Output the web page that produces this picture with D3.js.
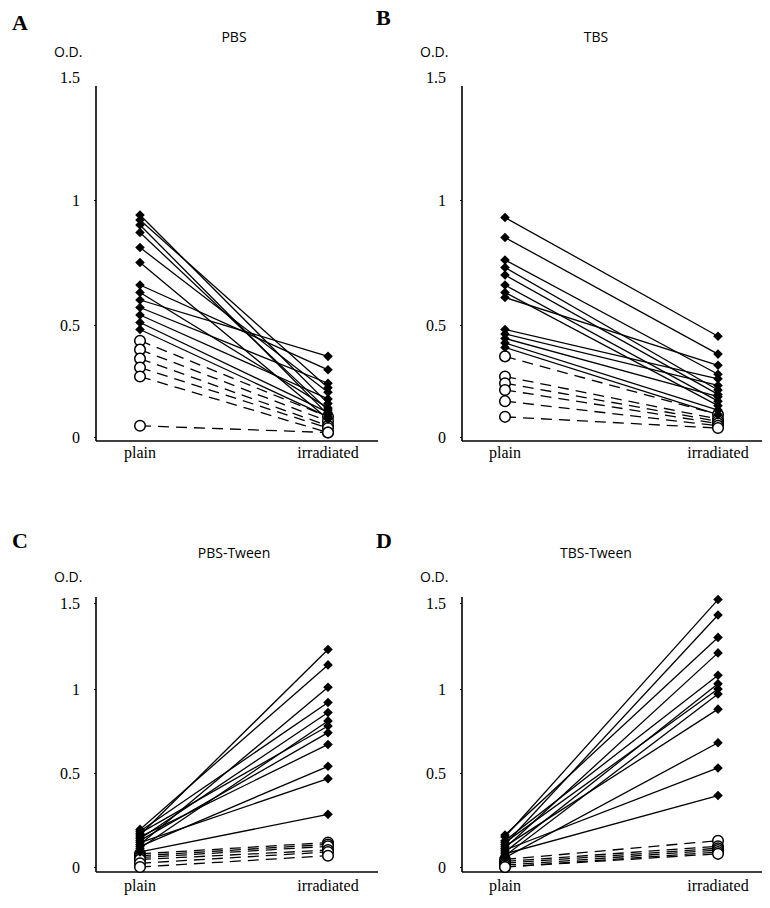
<!DOCTYPE html>
<html>
<head>
<meta charset="utf-8">
<script src="https://cdn.jsdelivr.net/npm/d3@7"></script>
<style>
  html, body { margin: 0; padding: 0; background: #fff; }
  svg { display: block; }
</style>
</head>
<body>
<svg id="fig" width="770" height="908"></svg>
<script>
// ---- data ----
const categories = ["plain", "irradiated"];
const yTicks = [0, 0.5, 1, 1.5];
const yTickLabels = ["0", "0.5", "1", "1.5"];
const panelLetters = ["A", "B", "C", "D"];
const panelTitles = ["PBS", "TBS", "PBS-Tween", "TBS-Tween"];

// PBS
const pbsSolidPlain = [0.94, 0.92, 0.90, 0.87, 0.81, 0.75, 0.66, 0.63, 0.60, 0.57, 0.54, 0.51, 0.48];
const pbsSolidIrr   = [0.15, 0.22, 0.10, 0.12, 0.20, 0.08, 0.30, 0.13, 0.36, 0.24, 0.17, 0.11, 0.09];
const pbsDashPlain  = [0.43, 0.39, 0.35, 0.31, 0.27, 0.05];
const pbsDashIrr    = [0.09, 0.07, 0.05, 0.04, 0.02, 0.02];

// TBS
const tbsSolidPlain = [0.93, 0.85, 0.76, 0.73, 0.70, 0.66, 0.63, 0.61, 0.48, 0.46, 0.44, 0.42, 0.40];
const tbsSolidIrr   = [0.45, 0.37, 0.28, 0.21, 0.19, 0.16, 0.14, 0.32, 0.26, 0.23, 0.18, 0.12, 0.10];
const tbsDashPlain  = [0.36, 0.27, 0.24, 0.21, 0.16, 0.09];
const tbsDashIrr    = [0.10, 0.08, 0.07, 0.06, 0.05, 0.04];

// PBS-Tween
const pbstSolidPlain = [0.17, 0.20, 0.12, 0.19, 0.15, 0.10, 0.18, 0.14, 0.16, 0.11, 0.13, 0.08];
const pbstSolidIrr   = [1.23, 1.14, 1.01, 0.92, 0.86, 0.81, 0.78, 0.74, 0.67, 0.54, 0.47, 0.28];
const pbstDashPlain  = [0.07, 0.06, 0.05, 0.04, 0.02, 0.00];
const pbstDashIrr    = [0.13, 0.12, 0.11, 0.09, 0.08, 0.06];

// TBS-Tween
const tbstSolidPlain = [0.16, 0.12, 0.17, 0.10, 0.14, 0.08, 0.13, 0.06, 0.11, 0.05, 0.09, 0.07];
const tbstSolidIrr   = [1.52, 1.43, 1.30, 1.21, 1.08, 1.03, 1.00, 0.97, 0.88, 0.68, 0.53, 0.38];
const tbstDashPlain  = [0.04, 0.03, 0.02, 0.01, 0.00, 0.00];
const tbstDashIrr    = [0.14, 0.11, 0.10, 0.09, 0.08, 0.07];

const panelSeries = [
  { solid: [pbsSolidPlain, pbsSolidIrr],   dash: [pbsDashPlain, pbsDashIrr] },
  { solid: [tbsSolidPlain, tbsSolidIrr],   dash: [tbsDashPlain, tbsDashIrr] },
  { solid: [pbstSolidPlain, pbstSolidIrr], dash: [pbstDashPlain, pbstDashIrr] },
  { solid: [tbstSolidPlain, tbstSolidIrr], dash: [tbstDashPlain, tbstDashIrr] }
];

// ---- layout ----
const rows = [
  { yRange: [437, 325, 200, 77], axisTop: 86, base: 441, odY: 57, titleY: 42, letterY: [30, 25], catY: 458 },
  { yRange: [867, 773, 689, 603], axisTop: 597, base: 872, odY: 582, titleY: 558, letterY: [548, 548], catY: 891 }
];
const cols = [
  { axisX: 96,  end: 378, plainX: 140, irrX: 328, titleX: 234, letterX: 12 },
  { axisX: 462, end: 762, plainX: 505, irrX: 718, titleX: 596, letterX: 376 }
];

const serif = "'Liberation Serif', 'DejaVu Serif', serif";
const sans = "'Open Sans', 'Liberation Sans', sans-serif";

const svg = d3.select("#fig");
svg.append("rect").attr("width", 770).attr("height", 908).attr("fill", "#fff");

const diamond = d3.symbol(d3.symbolSquare, 46);

panelSeries.forEach((series, i) => {
  const row = rows[Math.floor(i / 2)];
  const col = cols[i % 2];
  const g = svg.append("g");

  const y = d3.scaleLinear().domain(yTicks).range(row.yRange);
  const x = d3.scalePoint().domain(categories).range([col.plainX, col.irrX]);

  // panel letter and title
  g.append("text")
    .attr("x", col.letterX).attr("y", row.letterY[i % 2])
    .attr("font-family", serif).attr("font-weight", "bold").attr("font-size", 22)
    .text(panelLetters[i]);
  g.append("text")
    .attr("x", col.titleX).attr("y", row.titleY)
    .attr("text-anchor", "middle")
    .attr("font-family", sans).attr("font-size", 14)
    .text(panelTitles[i]);
  g.append("text")
    .attr("x", col.axisX - 42).attr("y", row.odY)
    .attr("font-family", sans).attr("font-size", 14)
    .text("O.D.");

  // y axis
  const yAxis = d3.axisLeft(y)
    .tickValues(yTicks)
    .tickFormat((d, k) => yTickLabels[k])
    .tickSize(2)
    .tickPadding(14);
  const ya = g.append("g").attr("transform", `translate(${col.axisX},0)`).call(yAxis);
  ya.select(".domain").remove();
  ya.selectAll("line").attr("stroke", "#000").attr("stroke-width", 1)
    .filter(d => y(d) < row.axisTop).remove();
  ya.selectAll("text")
    .attr("font-family", serif).attr("font-size", 16).attr("fill", "#000")
    .attr("dy", "0.35em");
  g.append("line")
    .attr("x1", col.axisX).attr("x2", col.axisX)
    .attr("y1", row.axisTop).attr("y2", row.base)
    .attr("stroke", "#000").attr("stroke-width", 1.6);

  // x axis
  g.append("line")
    .attr("x1", col.axisX).attr("x2", col.end)
    .attr("y1", row.base).attr("y2", row.base)
    .attr("stroke", "#000").attr("stroke-width", 1.6);
  g.selectAll(".cat").data(categories).join("text")
    .attr("x", d => x(d)).attr("y", row.catY)
    .attr("text-anchor", "middle")
    .attr("font-family", serif).attr("font-size", 16)
    .text(d => d);

  const pairs = (arr) => arr[0].map((v, k) => ({ p: v, r: arr[1][k] }));
  const dashPairs = pairs(series.dash);
  const solidPairs = pairs(series.solid);

  // dashed connectors (open circles)
  g.selectAll(".dl").data(dashPairs).join("line")
    .attr("x1", x("plain")).attr("x2", x("irradiated"))
    .attr("y1", d => y(d.p)).attr("y2", d => y(d.r))
    .attr("stroke", "#000").attr("stroke-width", 1.3)
    .attr("stroke-dasharray", "11,7");

  // solid connectors (filled diamonds)
  g.selectAll(".sl").data(solidPairs).join("line")
    .attr("x1", x("plain")).attr("x2", x("irradiated"))
    .attr("y1", d => y(d.p)).attr("y2", d => y(d.r))
    .attr("stroke", "#000").attr("stroke-width", 1.3);

  // markers
  ["plain", "irradiated"].forEach((c, ci) => {
    g.selectAll(".oc" + ci).data(series.dash[ci]).join("circle")
      .attr("cx", x(c)).attr("cy", d => y(d)).attr("r", 5.3)
      .attr("fill", "#fff").attr("stroke", "#000").attr("stroke-width", 1.5);
    g.selectAll(".fd" + ci).data(series.solid[ci]).join("path")
      .attr("d", diamond)
      .attr("transform", d => `translate(${x(c)},${y(d)}) rotate(45)`)
      .attr("fill", "#000");
  });
});
</script>
</body>
</html>
